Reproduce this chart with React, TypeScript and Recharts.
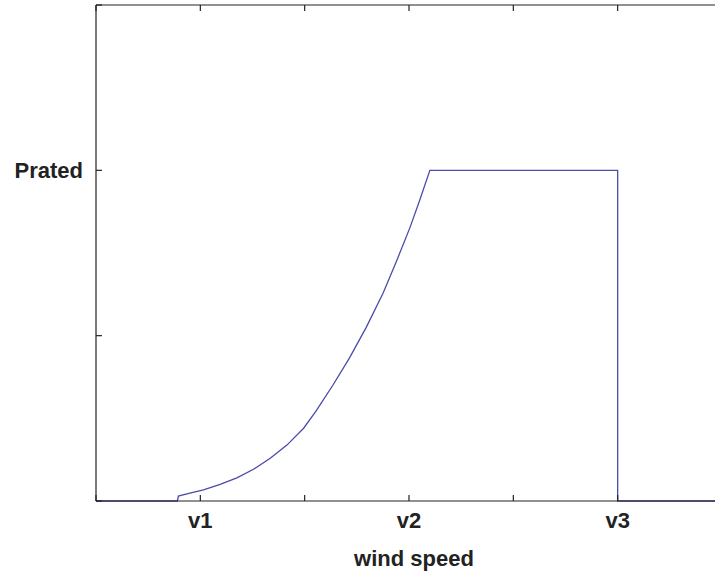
import React from "react";
import { LineChart, Line, XAxis, YAxis } from "recharts";

// wind speed (in tick units) and power
const windSpeed = [0, 0.78, 0.79, 0.9, 1.03, 1.19, 1.35, 1.51, 1.67, 1.83, 1.99, 2.11, 2.27, 2.43, 2.59, 2.75, 2.88, 3.01, 3.1, 3.2, 5.0, 5.0, 6];
const power = [0, 0, 0.03, 0.047, 0.068, 0.1, 0.14, 0.192, 0.258, 0.338, 0.44, 0.545, 0.7, 0.866, 1.05, 1.255, 1.45, 1.655, 1.815, 2.0, 2.0, 0, 0];

const xTicks = [0, 1, 2, 3, 4, 5, 6];
const xTickLabels: Record<number, string> = { 1: "v1", 3: "v2", 5: "v3" };
const yTicks = [0, 1, 2, 3];
const yTickLabels: Record<number, string> = { 2: "Prated" };

const data = windSpeed.map((v, i) => ({ v, p: power[i] }));

const INK = "#222";
const FONT = "'Liberation Sans', Arial, Helvetica, sans-serif";

const BottomTick = (props: any) => {
	const { x, y, payload } = props;
	const label = xTickLabels[payload.value];
	return (
		<g>
			<line x1={x} x2={x} y1={y} y2={y - 6} stroke={INK} strokeWidth={1.2} />
			{label && (
				<text x={x} y={y + 27} textAnchor='middle' fontFamily={FONT} fontWeight='bold' fontSize={22} fill={INK}>
					{label}
				</text>
			)}
		</g>
	);
};

const TopTick = (props: any) => {
	const { x, y } = props;
	return <line x1={x} x2={x} y1={y} y2={y + 6} stroke={INK} strokeWidth={1.2} />;
};

const LeftTick = (props: any) => {
	const { x, y, payload } = props;
	const label = yTickLabels[payload.value];
	return (
		<g>
			<line x1={x} x2={x + 6} y1={y} y2={y} stroke={INK} strokeWidth={1.2} />
			{label && (
				<text x={x - 13} y={y + 8} textAnchor='end' fontFamily={FONT} fontWeight='bold' fontSize={22} fill={INK}>
					{label}
				</text>
			)}
		</g>
	);
};

const RightTick = (props: any) => {
	const { x, y } = props;
	return <line x1={x} x2={x - 6} y1={y} y2={y} stroke={INK} strokeWidth={1.2} />;
};

export default function App() {
	return (
		<div
			style={{
				position: "absolute",
				left: 0,
				top: 0,
				width: 715,
				height: 575,
				overflow: "hidden",
				background: "#fff",
			}}>
			<LineChart width={722} height={575} data={data} margin={{ top: 4, right: 0, left: 0, bottom: 0 }}>
				<XAxis
					dataKey='v'
					type='number'
					domain={[0, 6]}
					ticks={xTicks}
					height={74}
					tickSize={0}
					tickMargin={0}
					tickLine={false}
					axisLine={{ stroke: INK, strokeWidth: 1.2 }}
					tick={<BottomTick />}
					interval={0}
					label={() => (
						<text x={414} y={566} textAnchor='middle' fontFamily={FONT} fontWeight='bold' fontSize={22} fill={INK}>
							wind speed
						</text>
					)}
				/>
				<XAxis
					xAxisId='top'
					orientation='top'
					dataKey='v'
					type='number'
					domain={[0, 6]}
					ticks={xTicks}
					height={1}
					tickSize={0}
					tickMargin={0}
					tickLine={false}
					axisLine={{ stroke: INK, strokeWidth: 1.2 }}
					tick={<TopTick />}
					interval={0}
				/>
				<YAxis
					type='number'
					domain={[0, 3]}
					ticks={yTicks}
					width={96}
					tickSize={0}
					tickMargin={0}
					tickLine={false}
					axisLine={{ stroke: INK, strokeWidth: 1.2 }}
					tick={<LeftTick />}
					interval={0}
				/>
				<YAxis
					yAxisId='right'
					orientation='right'
					type='number'
					domain={[0, 3]}
					ticks={yTicks}
					width={0}
					tickSize={0}
					tickMargin={0}
					tickLine={false}
					axisLine={{ stroke: INK, strokeWidth: 1.2 }}
					tick={<RightTick />}
					interval={0}
				/>
				<Line
					dataKey='p'
					type='linear'
					stroke='#4b4ba8'
					strokeWidth={1.3}
					dot={false}
					activeDot={false}
					isAnimationActive={false}
				/>
			</LineChart>
		</div>
	);
}
